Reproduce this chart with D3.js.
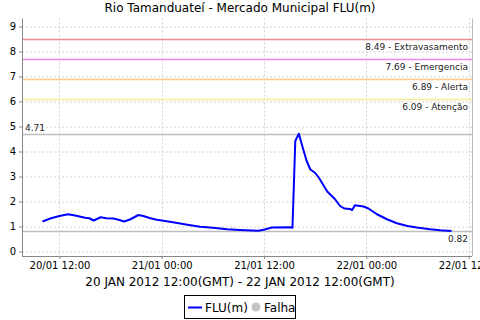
<!DOCTYPE html>
<html><head><meta charset="utf-8">
<script src="https://cdn.jsdelivr.net/npm/d3@7"></script>
<style>body{margin:0;background:#fff}svg{display:block}text{font-family:"DejaVu Sans",sans-serif}</style>
</head><body>
<svg id="c" width="480" height="320"></svg>
<script>
const times = ["2012-01-20T10:00","2012-01-20T11:00","2012-01-20T12:00","2012-01-20T13:00","2012-01-20T13:50","2012-01-20T15:00","2012-01-20T15:30","2012-01-20T16:00","2012-01-20T16:50","2012-01-20T17:30","2012-01-20T18:20","2012-01-20T18:55","2012-01-20T19:35","2012-01-20T20:20","2012-01-20T21:15","2012-01-20T21:50","2012-01-20T22:40","2012-01-20T23:25","2012-01-21T00:35","2012-01-21T01:50","2012-01-21T03:00","2012-01-21T04:30","2012-01-21T06:00","2012-01-21T07:40","2012-01-21T09:10","2012-01-21T11:20","2012-01-21T12:05","2012-01-21T12:55","2012-01-21T15:05","2012-01-21T15:20","2012-01-21T15:40","2012-01-21T16:05","2012-01-21T16:25","2012-01-21T17:00","2012-01-21T17:25","2012-01-21T18:00","2012-01-21T18:25","2012-01-21T19:25","2012-01-21T20:20","2012-01-21T20:55","2012-01-21T21:25","2012-01-21T22:05","2012-01-21T22:20","2012-01-21T22:40","2012-01-21T23:40","2012-01-22T00:15","2012-01-22T01:15","2012-01-22T02:25","2012-01-22T03:35","2012-01-22T04:50","2012-01-22T05:55","2012-01-22T07:30","2012-01-22T08:40","2012-01-22T10:00"];
const levels = [1.20,1.33,1.42,1.49,1.44,1.35,1.33,1.24,1.37,1.33,1.32,1.27,1.20,1.29,1.46,1.42,1.33,1.27,1.21,1.14,1.07,0.99,0.95,0.89,0.86,0.83,0.88,0.96,0.97,0.95,4.42,4.71,4.30,3.62,3.29,3.14,2.96,2.40,2.09,1.82,1.72,1.70,1.66,1.85,1.80,1.72,1.49,1.29,1.13,1.02,0.96,0.89,0.85,0.82];
const thresholdValues = [8.49,7.69,6.89,6.09];
const thresholdNames = ["Extravasamento","Emergencia","Alerta","Atenção"];
const thresholdColors = ["#f08c8c","#ee88ee","#ffc98c","#f8ec9c"];
const yTicks = [0,1,2,3,4,5,6,7,8,9];
const title = "Rio Tamanduateí - Mercado Municipal FLU(m)";
const xTitle = "20 JAN 2012 12:00(GMT) - 22 JAN 2012 12:00(GMT)";

const parse = d3.utcParse("%Y-%m-%dT%H:%M");
const data = times.map((t,i)=>({t:parse(t), v:levels[i]}));
const svg = d3.select("#c");
const L=22, R=472, T=18.5, B=256;
const ext = d3.extent(data,d=>d.t);
const pad = (ext[1]-ext[0])*0.05;
const x = d3.scaleUtc().domain([new Date(+ext[0]-pad), new Date(+ext[1]+pad)]).range([L,R]);
const y = d3.scaleLinear().domain([-0.18,9.32]).range([B,T]);
const xTicks = d3.utcHour.every(12).range(x.domain()[0], x.domain()[1]);

svg.append("text").attr("x",240).attr("y",12).attr("text-anchor","middle").attr("font-size",12).attr("fill","#000").text(title);

// grid
svg.append("g").selectAll("line").data(yTicks).join("line")
  .attr("x1",L).attr("x2",R).attr("y1",d=>y(d)+0.5).attr("y2",d=>y(d)+0.5)
  .attr("stroke","#d4d4d4").attr("stroke-dasharray","2,2").attr("stroke-width",1);
svg.append("g").selectAll("line").data(xTicks).join("line")
  .attr("x1",d=>Math.round(x(d))+0.5).attr("x2",d=>Math.round(x(d))+0.5).attr("y1",T).attr("y2",B)
  .attr("stroke","#d4d4d4").attr("stroke-dasharray","2,2").attr("stroke-width",1);

// thresholds
thresholdValues.forEach((v,i)=>{
  svg.append("line").attr("x1",L).attr("x2",R).attr("y1",Math.round(y(v))+0.5).attr("y2",Math.round(y(v))+0.5)
    .attr("stroke",thresholdColors[i]).attr("stroke-width",1.3);
  svg.append("text").attr("x",468).attr("y",y(v)+11).attr("text-anchor","end").attr("font-size",9).attr("fill","#222")
    .text(v.toFixed(2)+" - "+thresholdNames[i]);
});
const maxV = d3.max(levels), minV = d3.min(levels);
[maxV,minV].forEach(v=>{
  svg.append("line").attr("x1",L).attr("x2",R).attr("y1",Math.round(y(v))+0.5).attr("y2",Math.round(y(v))+0.5)
    .attr("stroke","#bdbdbd").attr("stroke-width",1.3);
});
svg.append("text").attr("x",25).attr("y",y(maxV)-3).attr("font-size",9).attr("fill","#222").text(maxV.toFixed(2));
svg.append("text").attr("x",468).attr("y",y(minV)+11).attr("text-anchor","end").attr("font-size",9).attr("fill","#222").text(minV.toFixed(2));

// line
svg.append("path").datum(data).attr("fill","none").attr("stroke","#0000ff").attr("stroke-width",2).attr("stroke-linejoin","round")
  .attr("d",d3.line().x(d=>x(d.t)).y(d=>y(d.v)));

// axes
const ya = svg.append("g").attr("transform",`translate(${L},0)`)
  .call(d3.axisLeft(y).tickValues(yTicks).tickSize(3).tickPadding(3).tickFormat(d3.format("d")));
ya.select(".domain").attr("stroke","#888").attr("d",`M0.5,${T}V${B}`);
ya.selectAll(".tick line").attr("stroke","#888");
ya.selectAll("text").attr("font-size",10).attr("fill","#000").attr("font-family","DejaVu Sans");

const xa = svg.append("g").attr("transform",`translate(0,${B})`)
  .call(d3.axisBottom(x).tickValues(xTicks).tickSize(3).tickPadding(3).tickFormat(d3.utcFormat("%d/%m %H:%M")));
xa.select(".domain").attr("stroke","#888").attr("d",`M${L},0.5H${R}`);
xa.selectAll(".tick line").attr("stroke","#888");
xa.selectAll("text").attr("font-size",10).attr("fill","#000").attr("font-family","DejaVu Sans");
svg.append("line").attr("x1",R+0.5).attr("x2",R+0.5).attr("y1",T).attr("y2",B).attr("stroke","#bbb");

svg.append("text").attr("x",240).attr("y",286).attr("text-anchor","middle").attr("font-size",12).attr("fill","#000").text(xTitle);

// legend
const lg = svg.append("g");
lg.append("rect").attr("x",184.5).attr("y",295.5).attr("width",111).attr("height",23).attr("fill","#fff").attr("stroke","#000");
lg.append("line").attr("x1",188).attr("x2",202).attr("y1",307.5).attr("y2",307.5).attr("stroke","#0000ff").attr("stroke-width",2);
lg.append("text").attr("x",205).attr("y",312).attr("font-size",12).attr("fill","#000").text("FLU(m)");
lg.append("circle").attr("cx",256).attr("cy",307).attr("r",4.5).attr("fill","#c4c4c4");
lg.append("text").attr("x",264).attr("y",312).attr("font-size",12).attr("fill","#000").text("Falha");
</script>
</body></html>
